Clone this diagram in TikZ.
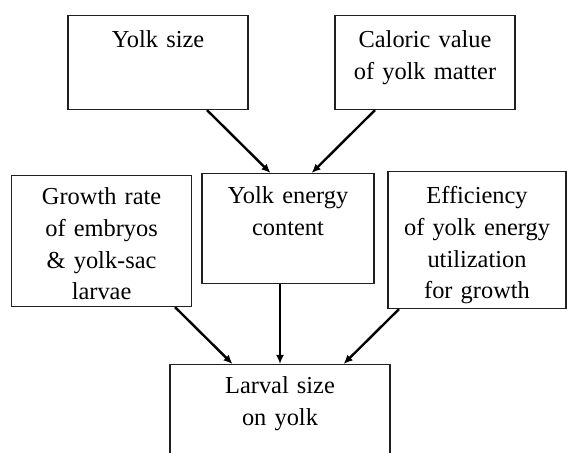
\documentclass[tikz,border=0pt]{standalone}
\usepackage{fontspec}
\setmainfont{Liberation Serif}
\usepackage{tikz}
\usetikzlibrary{arrows.meta, positioning, calc}
\usepackage{xcolor}
\definecolor{boxline}{HTML}{202020}
\begin{document}
\begin{tikzpicture}[x=0.5pt, y=-0.5pt,
        factor/.style={draw=boxline, line width=0.55pt, anchor=north, align=center, inner xsep=0pt, inner ysep=0pt, font=\fontsize{12.2pt}{15.9pt}\selectfont},
        link/.style={draw=black, line width=1.2pt, -{Latex[length=4.5pt, width=4pt]}}]
                \useasboundingbox (0,0) rectangle (567,453);
                \node[factor, text width=90pt, text height=16pt, text depth=31pt] (yolksize) at (158,15) {Yolk size};
                \node[factor, text width=90pt, text height=16pt, text depth=31pt] (caloric) at (425,15) {Caloric value\\of yolk matter};
                \node[factor, text width=90pt, text height=14.5pt, text depth=51pt] (growth) at (101.6,175) {Growth rate\\of embryos\\\& yolk-sac\\larvae};
                \node[factor, text width=86pt, text height=15pt, text depth=40pt] (energy) at (288,173) {Yolk energy\\content};
                \node[factor, text width=89pt, text height=16pt, text depth=52.5pt] (efficiency) at (477,171) {Efficiency\\of yolk energy\\utilization\\for growth};
                \node[factor, text width=110pt, text height=14.5pt, text depth=43.5pt] (larval) at (280,364) {Larval size\\on yolk};
                \draw[link] ([xshift=24.5pt]yolksize.south) -- ([xshift=-8.75pt]energy.north);
                \draw[link] ([xshift=-25pt]caloric.south) -- ([xshift=11.85pt]energy.north);
                \draw[link] ([xshift=36.7pt]growth.south) -- ([xshift=-23.75pt]larval.north);
                \draw[link] ([xshift=-4pt]energy.south) -- ([xshift=0pt]larval.north);
                \draw[link] ([xshift=-39pt]efficiency.south) -- ([xshift=31.8pt]larval.north);
            \end{tikzpicture}
\end{document}
